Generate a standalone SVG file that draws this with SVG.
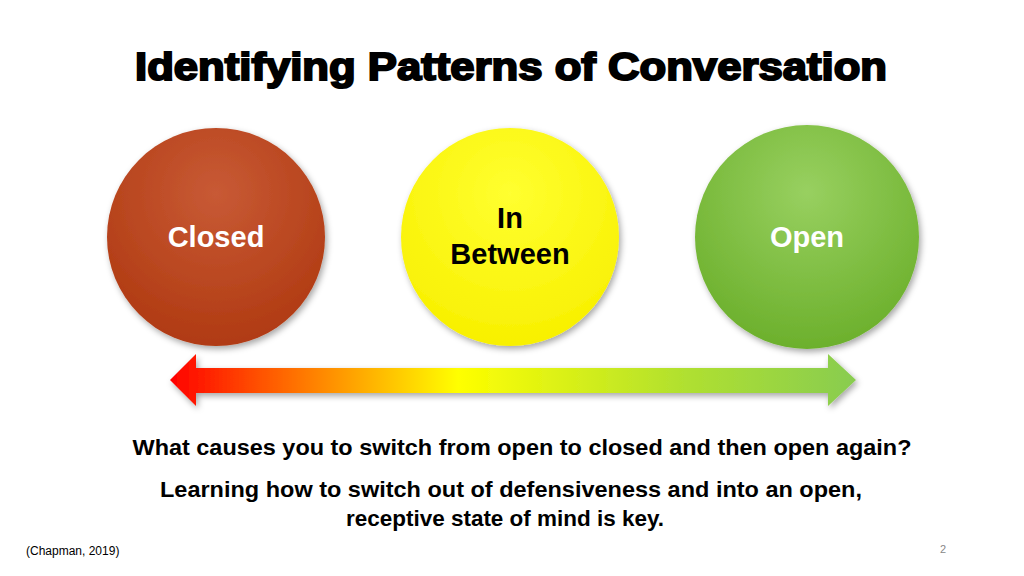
<svg xmlns="http://www.w3.org/2000/svg" width="1024" height="576" viewBox="0 0 1024 576">
<defs>
<style>
.t{font-family:"Liberation Sans",Arial,sans-serif;font-weight:bold;text-anchor:middle}
.lbl{font-size:29px}
.body{font-size:22px;fill:#000}
</style>
<radialGradient id="gr" cx="0.5" cy="0.3" r="0.7"><stop offset="0" stop-color="#c85a35"/><stop offset="1" stop-color="#b03a12"/></radialGradient>
<radialGradient id="gy" cx="0.5" cy="0.3" r="0.7"><stop offset="0" stop-color="#ffff30"/><stop offset="1" stop-color="#f8f000"/></radialGradient>
<radialGradient id="gg" cx="0.5" cy="0.3" r="0.7"><stop offset="0" stop-color="#98d060"/><stop offset="1" stop-color="#6cb02c"/></radialGradient>
<linearGradient id="ga" x1="170" x2="856" y1="0" y2="0" gradientUnits="userSpaceOnUse">
<stop offset="0" stop-color="#ff0000"/><stop offset="0.18" stop-color="#ff7000"/><stop offset="0.42" stop-color="#ffff00"/><stop offset="0.75" stop-color="#b0e030"/><stop offset="1" stop-color="#88cc50"/></linearGradient>
<filter id="sh" x="-20%" y="-20%" width="140%" height="140%"><feDropShadow dx="2" dy="3" stdDeviation="3" flood-color="#000" flood-opacity="0.35"/></filter>
</defs>
<rect width="1024" height="576" fill="#fff"/>
<text class="t" x="511" y="80" font-size="38" stroke="#000" stroke-width="2" fill="#000" textLength="752" lengthAdjust="spacingAndGlyphs">Identifying Patterns of Conversation</text>
<g id="closed"><circle cx="216" cy="237" r="109" fill="url(#gr)" filter="url(#sh)"/><text class="t lbl" x="216" y="247" fill="#fff">Closed</text></g>
<g id="between"><circle cx="510" cy="237" r="109" fill="url(#gy)" filter="url(#sh)"/><text class="t lbl" x="510" y="228" fill="#000">In</text><text class="t lbl" x="510" y="264" fill="#000">Between</text></g>
<g id="open"><circle cx="807" cy="237" r="112" fill="url(#gg)" filter="url(#sh)"/><text class="t lbl" x="807" y="247" fill="#fff">Open</text></g>
<g id="connectors"><path d="M170 380 L196 354 L196 368 L828 368 L828 354 L856 380 L828 406 L828 393 L196 393 L196 406 Z" fill="url(#ga)" filter="url(#sh)"/></g>
<text class="t body" x="522" y="455" textLength="779" lengthAdjust="spacingAndGlyphs">What causes you to switch from open to closed and then open again?</text>
<text class="t body" x="511" y="497" textLength="702" lengthAdjust="spacingAndGlyphs">Learning how to switch out of defensiveness and into an open,</text>
<text class="t body" x="505" y="526" textLength="318" lengthAdjust="spacingAndGlyphs">receptive state of mind is key.</text>
<text x="26" y="555" font-family="Liberation Sans,Arial,sans-serif" font-size="12">(Chapman, 2019)</text>
<text x="943" y="553" font-family="Liberation Sans,Arial,sans-serif" font-size="11" fill="#888" text-anchor="middle">2</text>
</svg>
